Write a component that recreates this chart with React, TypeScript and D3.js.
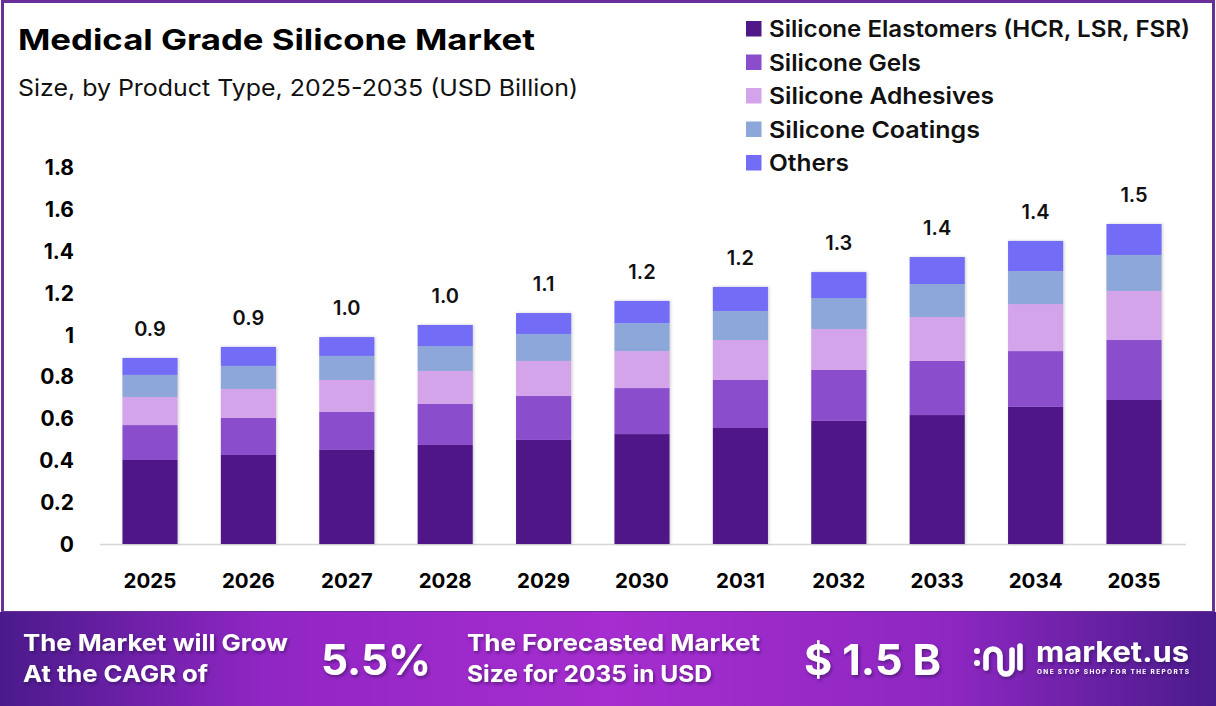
import React, { useEffect, useRef } from 'react'
import * as d3 from 'd3'

const years = ['2025', '2026', '2027', '2028', '2029', '2030', '2031', '2032', '2033', '2034', '2035']
const seriesNames = [
    'Silicone Elastomers (HCR, LSR, FSR)',
    'Silicone Gels',
    'Silicone Adhesives',
    'Silicone Coatings',
    'Others',
]
const elastomers = [0.402, 0.426, 0.450, 0.474, 0.498, 0.526, 0.555, 0.589, 0.617, 0.656, 0.689]
const gels = [0.167, 0.177, 0.182, 0.196, 0.210, 0.220, 0.230, 0.244, 0.259, 0.267, 0.287]
const adhesives = [0.134, 0.139, 0.153, 0.158, 0.168, 0.177, 0.191, 0.196, 0.210, 0.225, 0.235]
const coatings = [0.106, 0.110, 0.115, 0.119, 0.129, 0.134, 0.139, 0.148, 0.158, 0.158, 0.172]
const others = [0.081, 0.091, 0.090, 0.101, 0.100, 0.106, 0.115, 0.124, 0.129, 0.144, 0.148]
const totalLabels = ['0.9', '0.9', '1.0', '1.0', '1.1', '1.2', '1.2', '1.3', '1.4', '1.4', '1.5']
const yTicks = [0, 0.2, 0.4, 0.6, 0.8, 1, 1.2, 1.4, 1.6, 1.8]
const colors = ['#4f1787', '#8a4ecc', '#d3a4ea', '#8ea7da', '#736cf7']
const legendWidths = [421, 152, 225, 211, 80]

const FONT = "Inter, 'Noto Sans', sans-serif"

const App = () => {
    const svgRef = useRef<SVGSVGElement>(null)

    useEffect(() => {
        document.body.style.margin = '0'
        drawChart()
    }, [])

    const drawChart = () => {
        const svg: any = d3.select(svgRef.current)
        svg.selectAll('*').remove()
        const width = 1216
        const height = 706

        svg.attr('width', width).attr('height', height).attr('viewBox', [0, 0, width, height])

        const defs = svg.append('defs')
        const grad = defs.append('linearGradient').attr('id', 'bannerGrad')
            .attr('x1', '0%').attr('x2', '100%').attr('y1', '0%').attr('y2', '0%')
        grad.append('stop').attr('offset', '0%').attr('stop-color', '#4a1a8b')
        grad.append('stop').attr('offset', '22%').attr('stop-color', '#9126c4')
        grad.append('stop').attr('offset', '50%').attr('stop-color', '#a62dcf')
        grad.append('stop').attr('offset', '78%').attr('stop-color', '#8e27c2')
        grad.append('stop').attr('offset', '100%').attr('stop-color', '#4a1b8c')

        const shadow = defs.append('filter').attr('id', 'txtShadow')
            .attr('x', '-10%').attr('y', '-20%').attr('width', '130%').attr('height', '160%')
        shadow.append('feDropShadow').attr('dx', 1.5).attr('dy', 2).attr('stdDeviation', 1.5)
            .attr('flood-color', '#2a0a4a').attr('flood-opacity', 0.55)

        const barShadow = defs.append('filter').attr('id', 'barShadow')
            .attr('x', '-20%').attr('y', '-5%').attr('width', '140%').attr('height', '110%')
        barShadow.append('feDropShadow').attr('dx', 1).attr('dy', 0).attr('stdDeviation', 1.5)
            .attr('flood-color', '#555').attr('flood-opacity', 0.3)

        // background + frame
        svg.append('rect').attr('x', 0).attr('y', 0).attr('width', width).attr('height', height).attr('fill', '#fff')
        svg.append('rect').attr('x', 2.5).attr('y', 1.5).attr('width', width - 5).attr('height', 611)
            .attr('fill', 'none').attr('stroke', '#6a2f9b').attr('stroke-width', 3)

        // title
        svg.append('text').attr('x', 18).attr('y', 50).text('Medical Grade Silicone Market')
            .attr('font-family', FONT).attr('font-weight', 700).attr('font-size', 29).attr('fill', '#000')
            .attr('textLength', 517).attr('lengthAdjust', 'spacingAndGlyphs')
        svg.append('text').attr('x', 18).attr('y', 96).text('Size, by Product Type, 2025-2035 (USD Billion)')
            .attr('font-family', FONT).attr('font-weight', 400).attr('font-size', 23).attr('fill', '#111')
            .attr('textLength', 560).attr('lengthAdjust', 'spacingAndGlyphs')

        // scales
        const x = d3.scaleBand().domain(years).range([100.8, 1183.2]).paddingInner(0.44).paddingOuter(0.22)
        const y = d3.scaleLinear().domain([0, 1.8]).range([544, 167.8])

        const rows = years.map((yr, i) => ({
            year: yr,
            s0: elastomers[i], s1: gels[i], s2: adhesives[i], s3: coatings[i], s4: others[i],
        }))
        const keys = ['s0', 's1', 's2', 's3', 's4']
        const stacked = d3.stack<any>().keys(keys)(rows)

        // y tick labels
        svg.append('g').selectAll('text').data(yTicks).join('text')
            .attr('x', 74).attr('y', (d: number) => y(d)).attr('dy', '0.36em')
            .attr('text-anchor', 'end').text((d: number) => d3.format('~g')(d))
            .attr('font-family', FONT).attr('font-weight', 700).attr('font-size', 21).attr('fill', '#000')

        // baseline
        svg.append('line').attr('x1', 100).attr('x2', 1186).attr('y1', 544.5).attr('y2', 544.5)
            .attr('stroke', '#d6d6d6').attr('stroke-width', 1.5)

        // bars
        const barG = svg.append('g')
        barG.selectAll('g.bar').data(years).join('g').attr('class', 'bar')
            .attr('filter', 'url(#barShadow)')
            .each(function (this: any, yr: string, i: number) {
                d3.select(this).selectAll('rect').data(stacked).join('rect')
                    .attr('x', x(yr) as number)
                    .attr('width', x.bandwidth())
                    .attr('y', (s: any) => y(s[i][1]))
                    .attr('height', (s: any) => y(s[i][0]) - y(s[i][1]))
                    .attr('fill', (_: any, k: number) => colors[k])
            })

        // total labels
        const top = stacked[stacked.length - 1]
        svg.append('g').selectAll('text').data(years).join('text')
            .attr('x', (d: string) => (x(d) as number) + x.bandwidth() / 2)
            .attr('y', (_: string, i: number) => y(top[i][1]) - 22)
            .attr('text-anchor', 'middle').text((_: string, i: number) => totalLabels[i])
            .attr('font-family', FONT).attr('font-weight', 600).attr('font-size', 20).attr('fill', '#111')

        // x labels
        svg.append('g').selectAll('text').data(years).join('text')
            .attr('x', (d: string) => (x(d) as number) + x.bandwidth() / 2)
            .attr('y', 588).attr('text-anchor', 'middle').text((d: string) => d)
            .attr('font-family', FONT).attr('font-weight', 700).attr('font-size', 20.5).attr('fill', '#000')

        // legend
        const legend = svg.append('g')
        legend.selectAll('rect').data(seriesNames).join('rect')
            .attr('x', 746).attr('y', (_: string, i: number) => 21 + i * 33.5)
            .attr('width', 15.5).attr('height', 15.5).attr('fill', (_: string, i: number) => colors[i])
        legend.selectAll('text').data(seriesNames).join('text')
            .attr('x', 769).attr('y', (_: string, i: number) => 29 + i * 33.5).attr('dy', '0.36em')
            .text((d: string) => d)
            .attr('textLength', (_: string, i: number) => legendWidths[i]).attr('lengthAdjust', 'spacingAndGlyphs')
            .attr('font-family', FONT).attr('font-weight', 600).attr('font-size', 22.5).attr('fill', '#111')

        // banner
        const banner = svg.append('g')
        banner.append('rect').attr('x', 0).attr('y', 612).attr('width', width).attr('height', height - 612)
            .attr('fill', 'url(#bannerGrad)')

        const bt = banner.append('g').attr('filter', 'url(#txtShadow)').attr('fill', '#fff')
            .attr('font-family', FONT).attr('font-weight', 700)
        const bannerText = (t: string, bx: number, by: number, size: number, len: number) =>
            bt.append('text').attr('x', bx).attr('y', by).text(t).attr('font-size', size)
                .attr('textLength', len).attr('lengthAdjust', 'spacingAndGlyphs')

        bannerText('The Market will Grow', 23, 651, 23, 265)
        bannerText('At the CAGR of', 23, 682, 23, 185)
        bannerText('5.5%', 321, 675, 42, 110)
        bannerText('The Forecasted Market', 467, 651, 23, 293)
        bannerText('Size for 2035 in USD', 467, 682, 23, 245)
        bannerText('$ 1.5 B', 804, 675, 42, 137)

        // logo
        const logo = banner.append('g').attr('filter', 'url(#txtShadow)')
        logo.append('circle').attr('cx', 977).attr('cy', 651).attr('r', 3).attr('fill', '#fff')
        logo.append('circle').attr('cx', 977).attr('cy', 663).attr('r', 3).attr('fill', '#fff')
        logo.append('path')
            .attr('d', 'M986,668 L986,656 A7,7 0 0 1 1000,656 L1000,668 A6,6 0 0 0 1012,668 L1012,650')
            .attr('fill', 'none').attr('stroke', '#fff').attr('stroke-width', 5.5).attr('stroke-linecap', 'round')
        logo.append('line').attr('x1', 1020).attr('x2', 1020).attr('y1', 646).attr('y2', 668)
            .attr('stroke', '#fff').attr('stroke-width', 5.5).attr('stroke-linecap', 'round')
        logo.append('text').attr('x', 1036).attr('y', 662).text('market.us')
            .attr('font-family', FONT).attr('font-weight', 700).attr('font-size', 28).attr('fill', '#fff')
            .attr('textLength', 153).attr('lengthAdjust', 'spacingAndGlyphs')
        logo.append('text').attr('x', 1037).attr('y', 674).text('ONE STOP SHOP FOR THE REPORTS')
            .attr('font-family', FONT).attr('font-weight', 700).attr('font-size', 6.5).attr('fill', '#fff')
            .attr('textLength', 152).attr('lengthAdjust', 'spacing')
    }

    return (
        <div>
            <svg ref={svgRef} style={{ display: 'block' }}></svg>
        </div>
    )
}

export default App
